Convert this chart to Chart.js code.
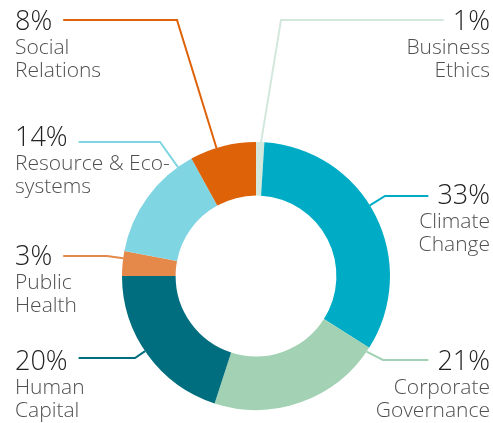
<!DOCTYPE html>
<html lang="en">
<head>
    <meta charset="UTF-8">
    <title>Sustainability topics</title>
    <script src="https://cdn.jsdelivr.net/npm/chart.js"></script>
    <style>
        html, body {
            margin: 0;
            padding: 0;
            background: #ffffff;
        }

        .wrap {
            position: relative;
            width: 493px;
            height: 423px;
        }
    </style>
</head>
<body>
    <div class="wrap">
        <canvas id="topicChart" width="493" height="423"></canvas>
    </div>

    <script>
        // data, clockwise from 12 o'clock
        const topics = ['Business Ethics', 'Climate Change', 'Corporate Governance', 'Human Capital',
                        'Public Health', 'Resource & Eco-systems', 'Social Relations'];
        const shares = [1, 33, 21, 20, 3, 14, 8];
        const nameLines = [
            ['Business', 'Ethics'],
            ['Climate', 'Change'],
            ['Corporate', 'Governance'],
            ['Human', 'Capital'],
            ['Public', 'Health'],
            ['Resource & Eco-', 'systems'],
            ['Social', 'Relations']
        ];
        const colors = ['#d3e8dc', '#00acc5', '#a3d1b3', '#006e7e', '#e5894a', '#80d5e2', '#de6208'];

        // where each callout sits: side, percent baseline, elbow x, line y
        const callouts = [
            { side: 'right', x: 490, base: 30, elbowX: 281, lineY: 20 },
            { side: 'right', x: 490, base: 204, elbowX: 385, lineY: 196 },
            { side: 'right', x: 490, base: 370, elbowX: 383, lineY: 360 },
            { side: 'left', x: 15, base: 370, elbowX: 135, lineY: 358 },
            { side: 'left', x: 15, base: 265, elbowX: 107, lineY: 256 },
            { side: 'left', x: 15, base: 146, elbowX: 160, lineY: 142 },
            { side: 'left', x: 15, base: 30, elbowX: 177, lineY: 20 }
        ];

        const pctFont = '300 27px "Open Sans", sans-serif';
        const nameFont = '300 21px "Open Sans", sans-serif';

        const calloutPlugin = {
            id: 'callouts',
            afterDatasetsDraw(chart) {
                const ctx = chart.ctx;
                const arcs = chart.getDatasetMeta(0).data;
                arcs.forEach((arc, i) => {
                    const c = callouts[i];
                    const p = arc.getProps(['x', 'y', 'startAngle', 'endAngle', 'outerRadius'], true);

                    // aim the leader at the elbow, but keep it inside the slice
                    let ang = Math.atan2(c.lineY - p.y, c.elbowX - p.x);
                    const span = p.endAngle - p.startAngle;
                    const margin = Math.min(span * 0.4, Math.PI / 90);
                    let a = ang;
                    while (a < p.startAngle) a += Math.PI * 2;
                    while (a > p.startAngle + Math.PI * 2) a -= Math.PI * 2;
                    if (a < p.startAngle + margin || a > p.endAngle - margin) {
                        const lo = p.startAngle + margin, hi = p.endAngle - margin;
                        const dLo = Math.min(Math.abs(a - lo), Math.abs(a - lo - Math.PI * 2));
                        const dHi = Math.min(Math.abs(a - hi), Math.abs(a - hi - Math.PI * 2));
                        a = dLo < dHi ? lo : hi;
                    }
                    const ex = p.x + Math.cos(a) * p.outerRadius;
                    const ey = p.y + Math.sin(a) * p.outerRadius;

                    const pct = shares[i] + '%';
                    ctx.save();
                    ctx.font = pctFont;
                    const pw = ctx.measureText(pct).width;
                    const lineEnd = c.side === 'left' ? c.x + pw + 11 : c.x - pw - 9;

                    ctx.strokeStyle = colors[i];
                    ctx.lineWidth = 2;
                    ctx.beginPath();
                    ctx.moveTo(lineEnd, c.lineY);
                    ctx.lineTo(c.elbowX, c.lineY);
                    ctx.lineTo(ex, ey);
                    ctx.stroke();

                    ctx.textAlign = c.side === 'left' ? 'left' : 'right';
                    ctx.textBaseline = 'alphabetic';
                    ctx.fillStyle = '#222222';
                    ctx.fillText(pct, c.x, c.base);

                    ctx.font = nameFont;
                    ctx.fillStyle = '#505050';
                    nameLines[i].forEach((line, k) => {
                        ctx.fillText(line, c.x, c.base + 24 + k * 23);
                    });
                    ctx.restore();
                });
            }
        };

        new Chart(document.getElementById('topicChart'), {
            type: 'doughnut',
            data: {
                labels: topics,
                datasets: [{
                    data: shares,
                    backgroundColor: colors,
                    borderWidth: 0
                }]
            },
            options: {
                responsive: false,
                animation: false,
                cutout: '60%',
                rotation: 0,
                layout: {
                    padding: { left: 122, right: 103, top: 142, bottom: 13 }
                },
                plugins: {
                    legend: { display: false },
                    tooltip: { enabled: false }
                }
            },
            plugins: [calloutPlugin]
        });
    </script>
</body>
</html>
